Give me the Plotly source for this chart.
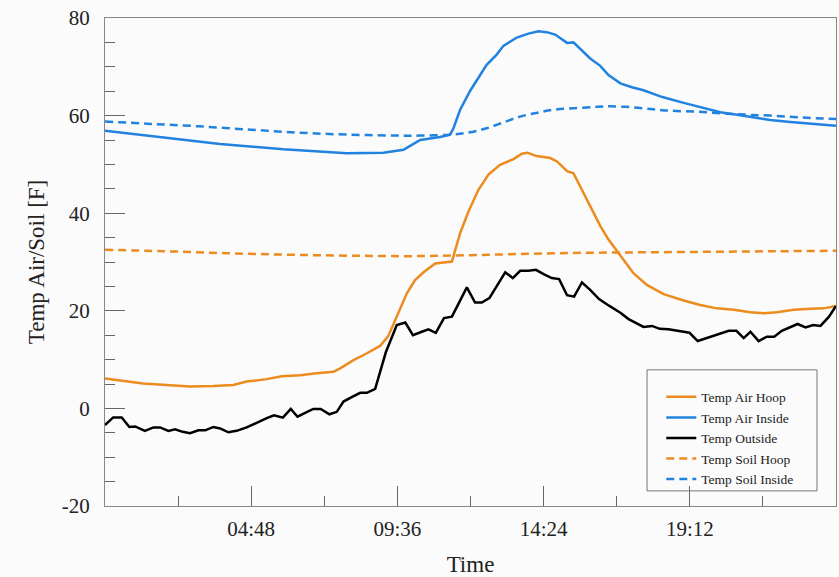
import plotly.graph_objects as go

# ---------------- data (hours of day, temperature in F) ----------------
t_air_hoop = [0.0, 0.49, 1.25, 2.02, 2.79, 3.56, 4.21, 4.65, 5.31, 5.80, 6.40, 6.95, 7.50, 7.72,
              8.16, 8.60, 9.03, 9.30, 9.64, 9.91, 10.18, 10.46, 10.84, 11.39, 11.66, 11.93, 12.26,
              12.59, 12.97, 13.41, 13.69, 13.87, 14.17, 14.62, 14.84, 15.17, 15.38, 15.82, 16.04,
              16.26, 16.53, 16.92, 17.35, 17.79, 18.34, 19.00, 19.54, 20.09, 20.64, 21.19, 21.62,
              22.06, 22.61, 23.16, 23.60, 24.0]
air_hoop = [6.15, 5.7, 5.1, 4.8, 4.5, 4.6, 4.8, 5.5, 6.0, 6.6, 6.8, 7.2, 7.5, 8.2,
            9.9, 11.3, 12.8, 14.8, 19.5, 23.6, 26.3, 27.9, 29.7, 30.1, 35.9, 40.3, 44.8,
            47.9, 49.9, 51.1, 52.2, 52.4, 51.7, 51.3, 50.6, 48.6, 48.2, 42.7, 40.0,
            37.4, 34.6, 31.2, 27.7, 25.3, 23.4, 22.1, 21.2, 20.5, 20.2, 19.7, 19.5,
            19.7, 20.2, 20.4, 20.5, 21.0]

t_air_inside = [0.0, 1.0, 2.24, 3.78, 5.86, 7.0, 7.94, 9.14, 9.80, 10.13, 10.35, 11.0, 11.33,
                11.44, 11.66, 11.99, 12.53, 12.86, 13.08, 13.52, 13.90, 14.23, 14.50, 14.78,
                15.17, 15.38, 15.93, 16.26, 16.53, 16.92, 17.30, 17.68, 18.30, 19.00, 19.60,
                20.20, 20.64, 21.20, 21.84, 22.50, 23.20, 24.0]
air_inside = [56.9, 56.2, 55.2, 54.2, 53.1, 52.6, 52.3, 52.4, 53.0, 54.2, 55.0, 55.6, 56.1,
              57.4, 61.2, 65.1, 70.4, 72.5, 74.3, 76.0, 76.8, 77.3, 77.1, 76.6,
              74.9, 75.0, 71.7, 70.2, 68.3, 66.6, 65.8, 65.2, 63.8, 62.6, 61.6,
              60.7, 60.3, 59.7, 59.1, 58.7, 58.3, 57.9]

t_outside = [0.00, 0.27, 0.55, 0.80, 0.99, 1.31, 1.59, 1.81, 2.08, 2.30, 2.55, 2.79, 3.07, 3.29,
             3.56, 3.78, 4.05, 4.32, 4.65, 4.98, 5.31, 5.55, 5.84, 6.10, 6.32, 6.57, 6.84, 7.08,
             7.37, 7.61, 7.83, 8.10, 8.38, 8.60, 8.87, 9.22, 9.58, 9.86, 10.11, 10.40, 10.62,
             10.86, 11.13, 11.39, 11.64, 11.88, 12.15, 12.37, 12.62, 12.89, 13.14, 13.39, 13.63,
             13.90, 14.15, 14.40, 14.67, 14.91, 15.17, 15.40, 15.66, 15.93, 16.22, 16.56, 16.92,
             17.19, 17.47, 17.68, 17.96, 18.21, 18.50, 18.78, 19.19, 19.46, 19.74, 19.98, 20.23,
             20.48, 20.73, 20.97, 21.19, 21.46, 21.73, 21.97, 22.22, 22.50, 22.74, 23.00, 23.25,
             23.49, 23.77, 24.0]
outside = [-3.4, -1.85, -1.85, -3.8, -3.7, -4.6, -3.9, -3.9, -4.6, -4.3, -4.8, -5.1, -4.5, -4.5,
           -3.8, -4.1, -4.9, -4.6, -3.9, -2.9, -2.0, -1.4, -1.9, -0.1, -1.7, -0.9, -0.1, -0.1,
           -1.2, -0.7, 1.4, 2.3, 3.2, 3.2, 4.0, 11.5, 17.1, 17.6, 15.0, 15.7, 16.2,
           15.5, 18.5, 18.8, 21.9, 24.8, 21.7, 21.7, 22.6, 25.5, 27.9, 26.7, 28.2,
           28.2, 28.4, 27.5, 26.7, 26.5, 23.2, 22.9, 25.8, 24.3, 22.4, 21.0, 19.6,
           18.3, 17.3, 16.7, 16.9, 16.3, 16.2, 15.9, 15.5, 13.8, 14.4, 14.9, 15.4,
           15.9, 15.9, 14.4, 15.7, 13.8, 14.7, 14.7, 15.9, 16.7, 17.3, 16.6, 17.1,
           16.9, 18.8, 21.0]

t_soil_hoop = [0, 2, 4, 6, 8, 10, 12, 14, 16, 18, 20, 22, 24]
soil_hoop = [32.5, 32.2, 31.8, 31.5, 31.3, 31.2, 31.4, 31.7, 31.9, 32.0, 32.1, 32.2, 32.3]

t_soil_inside = [0.0, 1.5, 3.1, 4.8, 6.4, 8.0, 9.7, 10.35, 11.33, 12.0, 12.53, 13.08, 13.63,
                 14.2, 14.73, 15.4, 16.15, 16.6, 17.3, 18.0, 18.56, 19.4, 20.2, 21.0, 21.84,
                 22.9, 24.0]
soil_inside = [58.8, 58.3, 57.8, 57.1, 56.5, 56.1, 55.9, 55.9, 56.1, 56.6, 57.4, 58.6, 59.8,
               60.6, 61.2, 61.5, 61.8, 61.9, 61.7, 61.3, 61.0, 60.8, 60.5, 60.2, 60.0,
               59.6, 59.3]

x_tick_vals = [4.8, 9.6, 14.4, 19.2]
x_tick_text = ["04:48", "09:36", "14:24", "19:12"]
x_minor_vals = [2.4, 7.2, 12.0, 16.8, 21.6]
y_tick_vals = [-20, 0, 20, 40, 60, 80]
y_tick_text = ["-20", "0", "20", "40", "60", "80"]

ORANGE = "#EC8B1E"
BLUE = "#2183DF"
SERIF = "Liberation Serif, Times New Roman, serif"

fig = go.Figure()
fig.add_trace(go.Scatter(x=t_air_hoop, y=air_hoop, mode="lines", name="Temp Air Hoop",
                         line=dict(color=ORANGE, width=2.5)))
fig.add_trace(go.Scatter(x=t_air_inside, y=air_inside, mode="lines", name="Temp Air Inside",
                         line=dict(color=BLUE, width=2.5)))
fig.add_trace(go.Scatter(x=t_outside, y=outside, mode="lines", name="Temp Outside",
                         line=dict(color="#000000", width=2.5)))
fig.add_trace(go.Scatter(x=t_soil_hoop, y=soil_hoop, mode="lines", name="Temp Soil Hoop",
                         line=dict(color=ORANGE, width=2.5, dash="8px,5px", shape="spline")))
fig.add_trace(go.Scatter(x=t_soil_inside, y=soil_inside, mode="lines", name="Temp Soil Inside",
                         line=dict(color=BLUE, width=2.5, dash="8px,5px", shape="spline")))

axis_common = dict(
    showgrid=False, zeroline=False, showline=True, linecolor="#888888", linewidth=1,
    mirror=True, ticks="inside", ticklen=20, tickwidth=1, tickcolor="#666666",
    tickfont=dict(family=SERIF, size=21, color="#222222"),
)

fig.update_xaxes(
    range=[0, 24], tickmode="array", tickvals=x_tick_vals, ticktext=x_tick_text,
    minor=dict(tickmode="array", tickvals=x_minor_vals, ticks="inside", ticklen=10,
               tickcolor="#666666", tickwidth=1),
    title=dict(text="Time", font=dict(family=SERIF, size=23, color="#222222"), standoff=18),
    ticklabelstandoff=4,
    **axis_common,
)
fig.update_yaxes(
    range=[-20, 80], tickmode="array", tickvals=y_tick_vals, ticktext=y_tick_text,
    minor=dict(ticks="inside", tick0=-20, dtick=5, ticklen=10, tickcolor="#666666", tickwidth=1),
    title=dict(text="Temp Air/Soil [F]", font=dict(family=SERIF, size=23, color="#222222"),
               standoff=10),
    ticklabelstandoff=10,
    **axis_common,
)

fig.add_shape(type="rect", xref="paper", yref="paper", x0=0.7415, x1=0.974, y0=0.031, y1=0.279,
              line=dict(color="#777777", width=1), fillcolor="rgba(0,0,0,0)", layer="above")

fig.update_layout(
    width=839, height=577,
    margin=dict(l=105, r=3, t=18, b=71),
    paper_bgcolor="#fbfbfb", plot_bgcolor="#fbfbfb",
    showlegend=True,
    legend=dict(x=0.761, y=0.255, xanchor="left", yanchor="top",
                bgcolor="rgba(0,0,0,0)", borderwidth=0,
                font=dict(family=SERIF, size=13.5, color="#222222"),
                tracegroupgap=0),
)

fig.write_html("out.html")
